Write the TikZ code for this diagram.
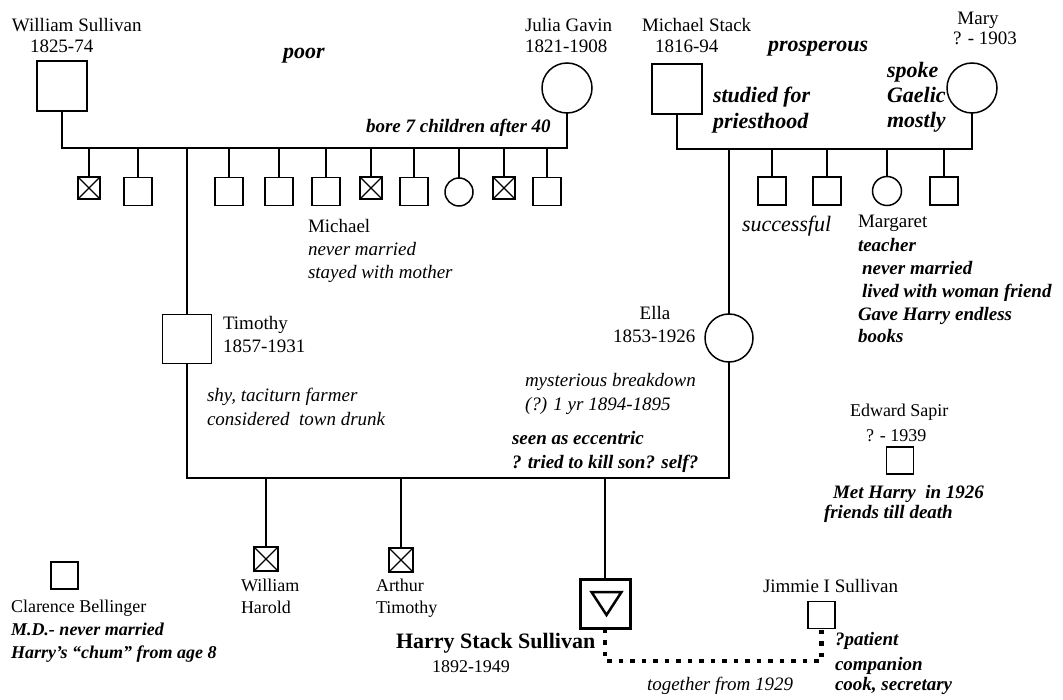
\documentclass[tikz,border=0pt]{standalone}
\usepackage{fontspec}
\setmainfont{Liberation Serif}
\begin{document}
\begin{tikzpicture}[x=1pt,y=-1pt,
  link/.style={line width=1.5pt},
  dotline/.style={line width=4.5pt, dash pattern=on 4.5pt off 7pt},
  person/.style={draw, line width=1.5pt, inner sep=0pt, outer sep=0pt},
  male/.style={person, rectangle, minimum width=#1, minimum height=#1},
  female/.style={person, circle, minimum size=#1},
  dead/.style={person, rectangle, line width=1.8pt, minimum width=#1, minimum height=#1,
    path picture={\draw[line width=1.3pt]
      (path picture bounding box.north west) -- (path picture bounding box.south east)
      (path picture bounding box.north east) -- (path picture bounding box.south west);}},
  txt/.style={anchor=base west, inner sep=0pt, outer sep=0pt, font=\fontsize{19}{23}\selectfont},
  txts/.style={txt, font=\fontsize{18}{22}\selectfont},
  ctxt/.style={txt, anchor=base},
  note/.style={txt, font=\fontsize{19}{23}\selectfont\bfseries\itshape},
  notes/.style={txt, font=\fontsize{18}{22}\selectfont\bfseries\itshape},
  inote/.style={txt, font=\fontsize{19}{23}\selectfont\itshape},
  bignote/.style={txt, font=\fontsize{22}{26}\selectfont\bfseries\itshape},
]
\useasboundingbox (0,0) rectangle (1063,700);

% ---------- Sullivan grandparents ----------
\node[txt] (wsName) at (12,32) {William Sullivan};
\node[txt] (wsDate) at (30,53) {1825-74};
\node[male=50pt] (ws) at (62,86) {};
\node[bignote] (poor) at (283,59) {poor};
\node[txt] (jgName) at (525,32) {Julia Gavin};
\node[txt] (jgDate) at (525,53) {1821-1908};
\node[female=50pt] (jg) at (567,88) {};
\node[note] (bore) at (366,133) {bore 7 children after 40};

\coordinate (sibA) at (0,148);
\draw[link] (ws.south) -- (ws.south |- sibA) -- (jg.south |- sibA) -- (jg.south);

% children of William and Julia
\node[dead=22pt] (a1) at (89,188) {};
\node[male=28pt] (a2) at (138,191.5) {};
\node[male=28pt] (a3) at (229,191.5) {};
\node[male=28pt] (a4) at (279,191.5) {};
\node[male=28pt] (a5) at (326,191.5) {};
\node[dead=22pt] (a6) at (371,188) {};
\node[male=28pt] (a7) at (414,191.5) {};
\node[female=28pt] (a8) at (459,192) {};
\node[dead=22pt] (a9) at (504,188) {};
\node[male=28pt] (a10) at (547,191.5) {};
\foreach \c in {a1,a2,a3,a4,a5,a6,a7,a8,a9,a10}
  \draw[link] (\c.north |- sibA) -- (\c.north);

\node[txt] (micName) at (308,233) {Michael};
\node[inote] (micN1) at (308,256) {never married};
\node[inote] (micN2) at (308,279) {stayed with mother};

% ---------- Stack grandparents ----------
\node[txt] (msName) at (642,32) {Michael Stack};
\node[txt] (msDate) at (655,53) {1816-94};
\node[male=50pt] (ms) at (677,89) {};
\node[bignote] (prosp) at (768,52) {prosperous};
\node[bignote] (stud1) at (713,103) {studied for};
\node[bignote] (stud2) at (713,129) {priesthood};
\node[ctxt] (maryName) at (978,25) {Mary};
\node[txt] (maryDate) at (953,45) {? - 1903};
\node[female=50pt] (mary) at (972,88) {};
\node[bignote] (gae1) at (887,78) {spoke};
\node[bignote] (gae2) at (887,103) {Gaelic};
\node[bignote] (gae3) at (887,128) {mostly};

\coordinate (sibB) at (0,149);
\draw[link] (ms.south) -- (ms.south |- sibB) -- (mary.south |- sibB) -- (mary.south);

\node[male=28pt] (b1) at (772,191) {};
\node[male=28pt] (b2) at (827,191) {};
\node[female=29pt] (b3) at (887,191) {};
\node[male=28pt] (b4) at (944,191) {};
\foreach \c in {b1,b2,b3,b4}
  \draw[link] (\c.north |- sibB) -- (\c.north);

\node[txt, font=\fontsize{22}{26}\selectfont\itshape] (succ) at (742,232) {successful};
\node[txt] (margName) at (858,228) {Margaret};
\node[note] (marg1) at (858,252) {teacher};
\node[note] (marg2) at (862,275) {never married};
\node[note] (marg3) at (862,298) {lived with woman friend};
\node[note] (marg4) at (858,321) {Gave Harry endless};
\node[note] (marg5) at (858,343) {books};

% ---------- Parents ----------
\node[male=49pt] (tim) at (187,339) {};
\node[txt] (timName) at (223,330) {Timothy};
\node[txt] (timDate) at (223,353) {1857-1931};
\node[inote] (tim1) at (207,402) {shy, taciturn farmer};
\node[inote] (tim2) at (207,425) {considered\ \ town drunk};
\draw[link] (tim.north |- sibA) -- (tim.north);

\node[female=48pt] (ella) at (729,338) {};
\node[ctxt] (ellaName) at (655,320) {Ella};
\node[txt] (ellaDate) at (613,343) {1853-1926};
\node[inote] (ella1) at (525,387) {mysterious breakdown};
\node[inote] (ella2) at (525,410) {(?) 1 yr 1894-1895};
\node[note] (ella3) at (512,445) {seen as eccentric};
\node[note] (ella4) at (512,468) {? tried to kill son? self?};
\draw[link] (ella.north |- sibB) -- (ella.north);

\coordinate (sibC) at (0,478);
\draw[link] (tim.south) -- (tim.south |- sibC) -- (ella.south |- sibC) -- (ella.south);

% ---------- Their children ----------
\node[dead=24pt] (wh) at (266,559) {};
\node[txts] (wh1) at (241,591) {William};
\node[txts] (wh2) at (241,613) {Harold};
\node[dead=24pt] (at) at (401,560) {};
\node[txts] (at1) at (376,591) {Arthur};
\node[txts] (at2) at (376,613) {Timothy};

\node[person, line width=3pt, minimum width=50pt, minimum height=49pt] (harry) at (605,604) {};
\draw[line width=2.5pt, line join=miter] (591.5,592) -- (621.5,592) -- (606.5,615) -- cycle;
\node[txt, font=\fontsize{22}{26}\selectfont\bfseries] (harryName) at (396,648) {Harry Stack Sullivan};
\node[txts] (harryDate) at (432,672) {1892-1949};
\foreach \c in {wh,at,harry}
  \draw[link] (\c.north |- sibC) -- (\c.north);

% ---------- Friends and companions ----------
\node[male=27pt] (cb) at (64.5,575.5) {};
\node[txts] (cbName) at (11,612) {Clarence Bellinger};
\node[notes] (cb1) at (11,635) {M.D.- never married};
\node[notes] (cb2) at (11,658) {Harry’s “chum” from age 8};

\node[txts] (esName) at (850,417) {Edward Sapir};
\node[txts] (esDate) at (866,441) {? - 1939};
\node[male=27pt] (es) at (900,460.5) {};
\node[note] (es1) at (833,498) {Met Harry\ \ in 1926};
\node[note] (es2) at (824,518) {friends till death};

\node[txt] (jimName) at (763,592) {Jimmie I Sullivan};
\node[male=27pt] (jim) at (821.5,615) {};
\node[note] (jim1) at (835,645) {?patient};
\node[note] (jim2) at (835,670) {companion};
\node[note] (jim3) at (835,690) {cook, secretary};
\node[inote] (tog) at (647,690) {together from 1929};

\coordinate (tg) at (0,661);
\draw[dotline] (harry.south) -- (harry.south |- tg) -- (jim.south |- tg) -- (jim.south);
\end{tikzpicture}
\end{document}
